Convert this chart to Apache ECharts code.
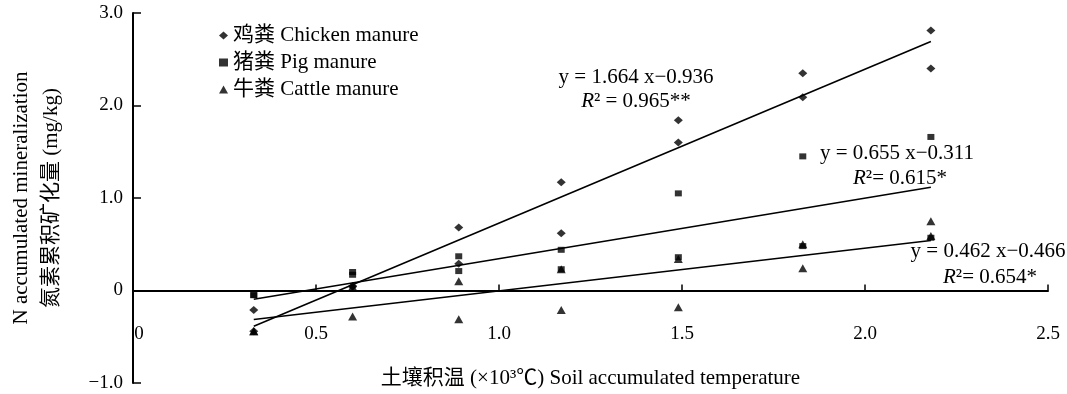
<!DOCTYPE html>
<html>
<head>
<meta charset="utf-8">
<script src="https://cdn.jsdelivr.net/npm/echarts@6/dist/echarts.min.js"></script>
<style>
html,body{margin:0;padding:0;background:#fff;}
#c{width:1067px;height:394px;}
</style>
</head>
<body>
<div id="c"></div>
<script>
// ---- data ----
const xCols = [0.33, 0.60, 0.89, 1.17, 1.49, 1.83, 2.18];
const chickenA = [-0.21, 0.05, 0.68, 1.17, 1.84, 2.35, 2.81];
const chickenB = [-0.44, 0.04, 0.29, 0.62, 1.60, 2.09, 2.40];
const pigA = [-0.05, 0.20, 0.37, 0.44, 1.05, 1.45, 1.66];
const pigB = [-0.05, 0.17, 0.21, 0.23, 0.36, 0.48, 0.57];
const cattleA = [-0.44, -0.28, 0.10, 0.23, 0.34, 0.50, 0.75];
const cattleB = [-0.44, 0.04, -0.31, -0.21, -0.18, 0.24, 0.59];
const seriesNames = ['鸡粪 Chicken manure', '猪粪 Pig manure', '牛粪 Cattle manure'];
const slopes = [1.664, 0.655, 0.462];
const intercepts = [-0.936, -0.311, -0.466];
const eqTexts = ['y = 1.664 x\u22120.936', 'y = 0.655 x\u22120.311', 'y = 0.462 x\u22120.466'];
const r2Texts = ['{i|R}\u00b2 = 0.965**', '{i|R}\u00b2= 0.615*', '{i|R}\u00b2= 0.654*'];

const FONT = '"Liberation Serif", "Times New Roman", "Noto Sans CJK SC", serif';

function pts(a, b) {
  const out = [];
  xCols.forEach((x, i) => out.push([x, a[i]]));
  xCols.forEach((x, i) => out.push([x, b[i]]));
  return out;
}
const scatterData = [pts(chickenA, chickenB), pts(pigA, pigB), pts(cattleA, cattleB)];
const symbols = ['diamond', 'rect', 'triangle'];
const symSizes = [[9, 8], [7, 6], [9, 8]];
const x0 = xCols[0], x1 = xCols[xCols.length - 1];

const series = [];
for (let k = 0; k < 3; k++) {
  series.push({
    name: seriesNames[k], type: 'scatter', data: scatterData[k],
    symbol: symbols[k], symbolSize: symSizes[k],
    itemStyle: { color: '#000' }, z: 3
  });
}
for (let k = 0; k < 3; k++) {
  series.push({
    type: 'line', showSymbol: false, symbol: 'none', silent: true,
    data: [[x0, slopes[k] * x0 + intercepts[k]], [x1, slopes[k] * x1 + intercepts[k]]],
    lineStyle: { color: '#000', width: 1.6 }, z: 2
  });
}

const eqPos = [[636, 77], [897, 153], [988, 251]];
const r2Pos = [[636, 101], [900, 178], [990, 277]];
const graphics = [];
for (let k = 0; k < 3; k++) {
  graphics.push({ type: 'text', x: eqPos[k][0], y: eqPos[k][1], z: 10,
    style: { text: eqTexts[k], fill: '#000', fontSize: 21, fontFamily: FONT, align: 'center', verticalAlign: 'middle' } });
  graphics.push({ type: 'text', x: r2Pos[k][0], y: r2Pos[k][1], z: 10,
    style: { text: r2Texts[k], fill: '#000', fontSize: 21, fontFamily: FONT, align: 'center', verticalAlign: 'middle',
      rich: { i: { fontStyle: 'italic', fontSize: 21, fontFamily: FONT } } } });
}

const chart = echarts.init(document.getElementById('c'), null, { renderer: 'canvas' });
chart.setOption({
  animation: false,
  backgroundColor: '#fff',
  grid: { left: 133, right: 19, top: 13, bottom: 11, containLabel: false, outerBoundsMode: 'none' },
  legend: {
    orient: 'vertical', left: 214, top: 20, itemGap: 6, itemWidth: 9, itemHeight: 8,
    data: seriesNames,
    textStyle: { color: '#000', fontSize: 21, fontFamily: FONT }
  },
  xAxis: {
    type: 'value', min: 0, max: 2.5, interval: 0.5,
    name: '土壤积温 (×10³℃) Soil accumulated temperature',
    nameLocation: 'middle', nameGap: -15,
    nameTextStyle: { color: '#000', fontSize: 21, fontFamily: FONT },
    axisLine: { show: true, onZero: true, lineStyle: { color: '#000', width: 2 } },
    axisTick: { show: true, inside: true, length: 6, lineStyle: { color: '#000', width: 1.5 } },
    splitLine: { show: false },
    axisLabel: {
      margin: -58, color: '#000', fontSize: 19, fontFamily: FONT,
      formatter: v => v === 0 ? '{z|0}' : v.toFixed(1),
      rich: { z: { padding: [0, 0, 0, 12], fontSize: 19, fontFamily: FONT, color: '#000' } }
    }
  },
  yAxis: {
    type: 'value', min: -1, max: 3, interval: 1,
    name: 'N accumulated mineralization\n氮素累积矿化量 (mg/kg)',
    nameLocation: 'middle', nameRotate: 90, nameGap: 67,
    nameTextStyle: { color: '#000', fontSize: 21, fontFamily: FONT, lineHeight: 30 },
    axisLine: { show: true, onZero: false, lineStyle: { color: '#000', width: 2 } },
    axisTick: { show: true, inside: true, length: 8, lineStyle: { color: '#000', width: 1.5 } },
    splitLine: { show: false },
    axisLabel: {
      margin: 10, color: '#000', fontSize: 19, fontFamily: FONT,
      formatter: v => v === 0 ? '0' : (v < 0 ? '\u2212' + Math.abs(v).toFixed(1) : v.toFixed(1))
    }
  },
  graphic: graphics,
  series: series
});
</script>
</body>
</html>
